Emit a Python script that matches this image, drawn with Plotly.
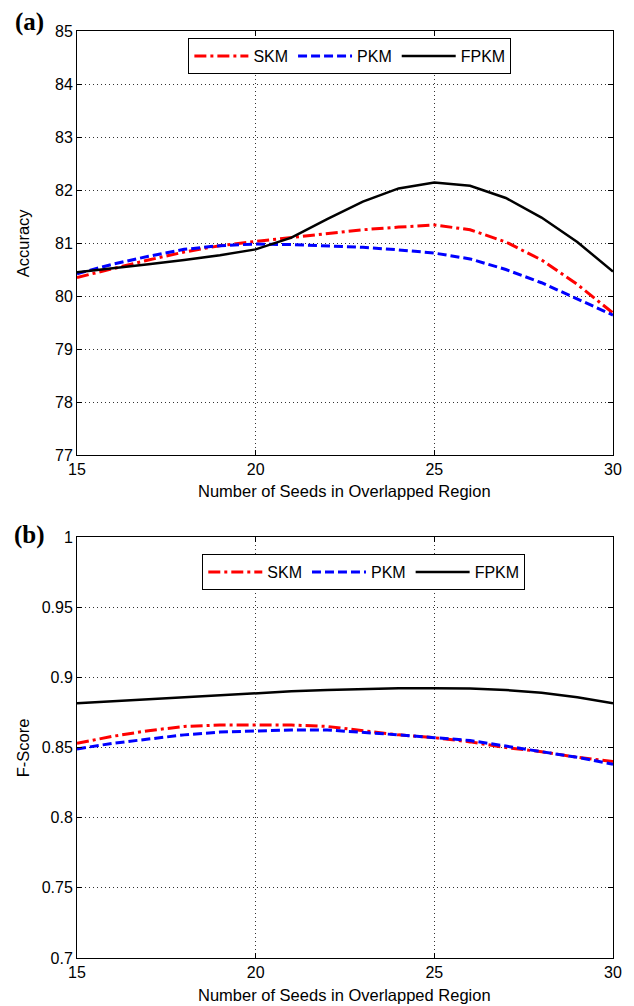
import plotly.graph_objects as go

seeds = list(range(15, 31))

acc_skm = [80.35, 80.52, 80.68, 80.83, 80.95, 81.03, 81.10, 81.18, 81.25, 81.30, 81.34, 81.25, 81.02, 80.68, 80.22, 79.68]
acc_pkm = [80.42, 80.60, 80.75, 80.88, 80.95, 80.98, 80.97, 80.95, 80.92, 80.87, 80.81, 80.70, 80.50, 80.25, 79.95, 79.64]
acc_fpkm = [80.45, 80.52, 80.60, 80.68, 80.77, 80.88, 81.10, 81.45, 81.78, 82.03, 82.14, 82.08, 81.85, 81.48, 81.02, 80.46]

f_skm = [0.853, 0.858, 0.862, 0.865, 0.866, 0.866, 0.866, 0.865, 0.862, 0.859, 0.857, 0.854, 0.850, 0.847, 0.843, 0.840]
f_pkm = [0.849, 0.853, 0.856, 0.859, 0.861, 0.862, 0.8625, 0.8625, 0.861, 0.859, 0.857, 0.855, 0.851, 0.847, 0.843, 0.838]
f_fpkm = [0.8816, 0.883, 0.8845, 0.886, 0.8875, 0.8888, 0.890, 0.891, 0.8918, 0.8923, 0.8923, 0.8921, 0.8910, 0.8890, 0.8858, 0.8816]

names = ["SKM", "PKM", "FPKM"]
colors = ["#ff0000", "#0000ff", "#000000"]
dashes = ["12px,4px,3px,4px", "9px,4px", "solid"]
widths = [3, 3, 2.5]

W, H = 634, 1006
ml, mr, mt, mb = 77, 18, 31, 48
ph = H - mt - mb

def py(pix):
    return (H - mb - pix) / ph

def px(pix):
    return (pix - ml) / (W - ml - mr)

fig = go.Figure()

for series, legend, ya in [((acc_skm, acc_pkm, acc_fpkm), "legend", "y"),
                           ((f_skm, f_pkm, f_fpkm), "legend2", "y2")]:
    for i, vals in enumerate(series):
        fig.add_trace(go.Scatter(
            x=seeds, y=vals, mode="lines", name=names[i],
            line=dict(color=colors[i], dash=dashes[i], width=widths[i]),
            xaxis="x" if ya == "y" else "x2", yaxis=ya, legend=legend,
        ))

font = "Liberation Sans, Arial, sans-serif"
axis_common = dict(
    showline=True, linecolor="#000", linewidth=1, mirror="ticks",
    ticks="inside", ticklen=5, tickcolor="#000",
    showgrid=True, gridcolor="#333", griddash="1px,3px", gridwidth=1,
    zeroline=False, tickfont=dict(family=font, size=16, color="#000"),
)

legend_common = dict(
    orientation="h", bgcolor="white", bordercolor="#000", borderwidth=1,
    font=dict(family=font, size=16, color="#000"),
    xanchor="left", yanchor="top", itemwidth=54, tracegroupgap=0,
)

fig.update_layout(
    width=W, height=H,
    margin=dict(l=ml, r=mr, t=mt, b=mb),
    plot_bgcolor="white", paper_bgcolor="white",
    showlegend=True,
    xaxis=dict(domain=[0, 1], range=[15, 30], dtick=5, anchor="y", **axis_common),
    yaxis=dict(domain=[py(455), py(31)], range=[77, 85], dtick=1, anchor="x", **axis_common),
    xaxis2=dict(domain=[0, 1], range=[15, 30], dtick=5, anchor="y2", **axis_common),
    yaxis2=dict(domain=[py(958), py(537)], range=[0.7, 1.0], dtick=0.05, anchor="x2", **axis_common),
    legend=dict(x=px(189), y=py(38), **legend_common),
    legend2=dict(x=px(203), y=py(554), **legend_common),
)

annotations = [
    dict(text="<b>(a)</b>", x=px(29), y=py(22)),
    dict(text="<b>(b)</b>", x=px(29), y=py(535)),
]
for a in annotations:
    fig.add_annotation(xref="paper", yref="paper", xanchor="center", yanchor="middle",
                       showarrow=False, text=a["text"], x=a["x"], y=a["y"],
                       font=dict(family="Liberation Serif, Times New Roman, serif", size=25, color="#000"))

for text, x, y, ang in [("Accuracy", 23, 243, -90), ("F-Score", 23, 748, -90),
                        ("Number of Seeds in Overlapped Region", 346, 491, 0),
                        ("Number of Seeds in Overlapped Region", 346, 995, 0)]:
    fig.add_annotation(xref="paper", yref="paper", xanchor="center", yanchor="middle",
                       showarrow=False, text=text, x=px(x), y=py(y), textangle=ang,
                       font=dict(family=font, size=16.5, color="#000"))

fig.write_html("out.html", config={"displayModeBar": False},
               post_script="document.body.style.margin='0px';")
